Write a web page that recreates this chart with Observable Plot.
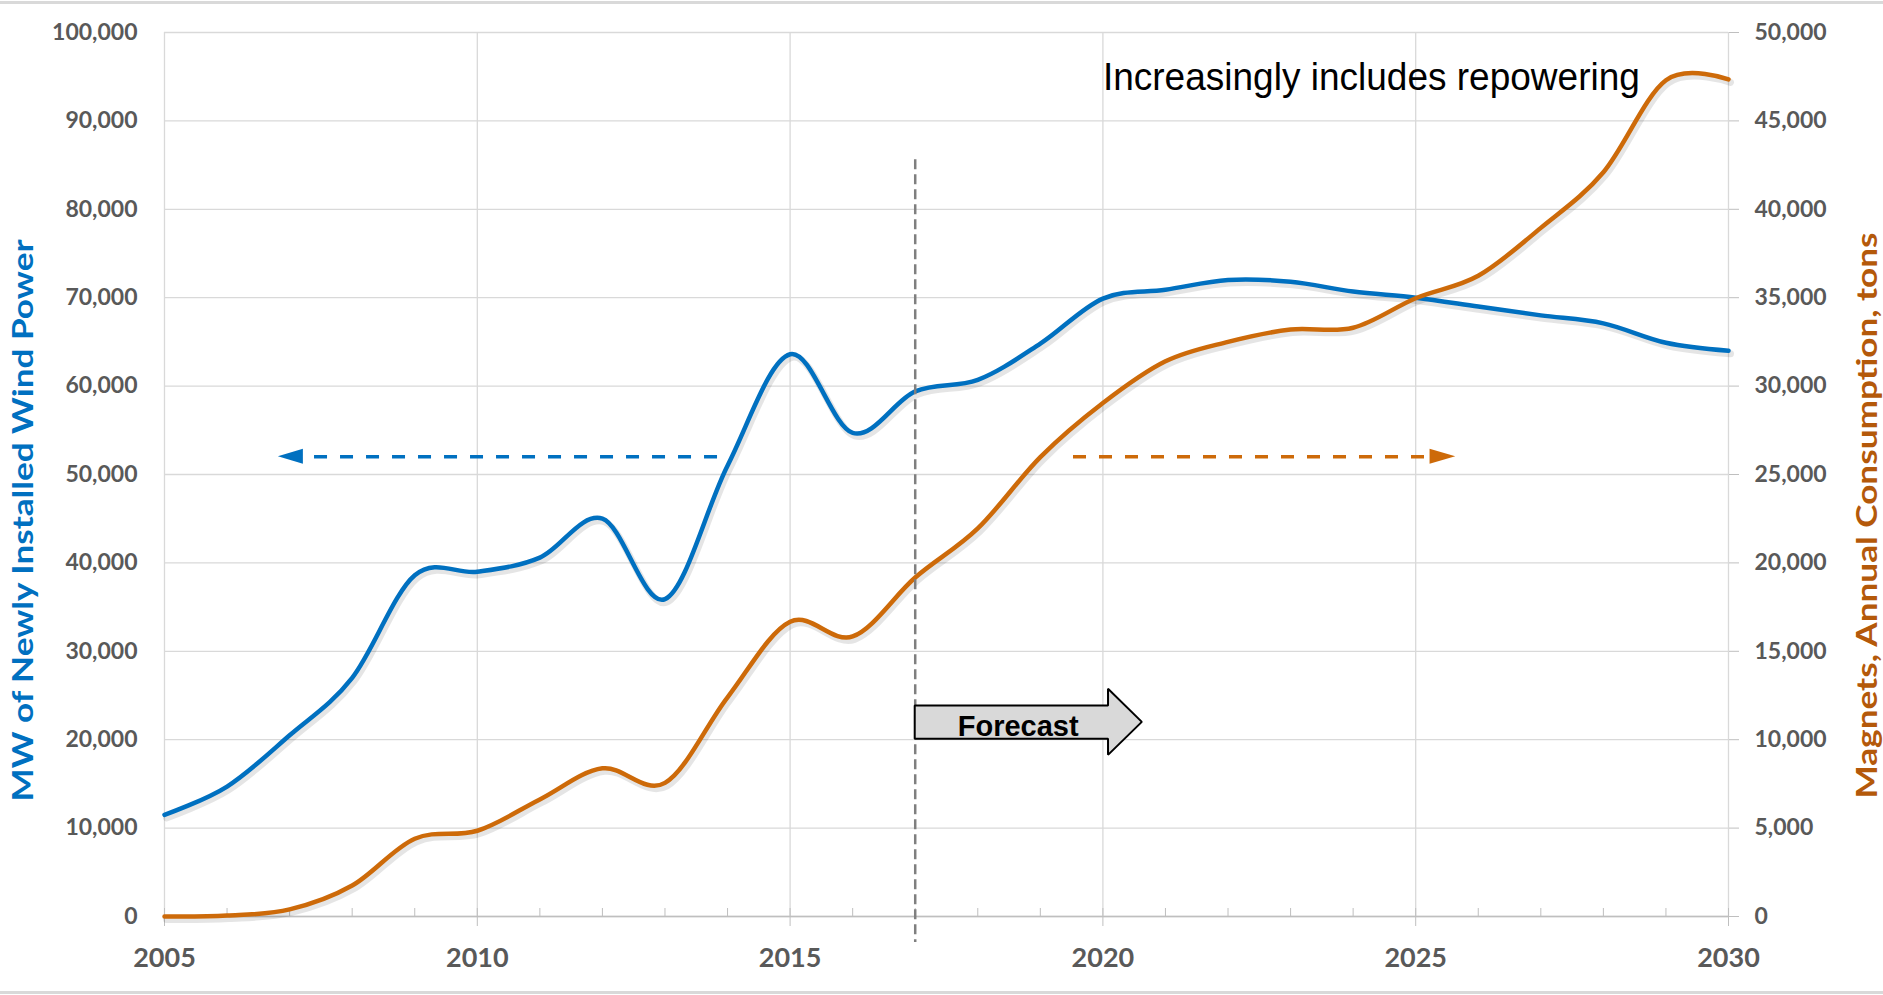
<!DOCTYPE html>
<html><head><meta charset="utf-8">
<script src="https://cdn.jsdelivr.net/npm/d3@7"></script>
<script src="https://cdn.jsdelivr.net/npm/@observablehq/plot@0.6"></script>
<style>
html,body{margin:0;padding:0;background:#fff;}
#chart{margin-top:1px;border-top:3px solid #d9d9d9;border-bottom:3px solid #d9d9d9;width:1883px;}
#chart svg{display:block;}
</style></head><body><div id="chart"></div>
<script>
// ---- data ----
const years = [2005,2006,2007,2008,2009,2010,2011,2012,2013,2014,2015,2016,2017,2018,2019,2020,2021,2022,2023,2024,2025,2026,2027,2028,2029,2030];
const windMW = [11500,14700,20500,27000,38600,39000,40600,45000,35900,51000,63600,54700,59400,60700,64800,69900,70900,72000,71800,70700,70000,69000,68000,67100,64900,64000];
const magnetTons = [0,50,400,1750,4400,4850,6620,8380,7560,12400,16670,15840,19170,21950,25980,29040,31400,32500,33200,33300,34970,36240,38950,42100,47300,47350];
const xTickYears = [2005,2010,2015,2020,2025,2030];
const leftTicks = [0,10000,20000,30000,40000,50000,60000,70000,80000,90000,100000];
const rightTicks = [0,5000,10000,15000,20000,25000,30000,35000,40000,45000,50000];
const leftTitle = "MW of Newly Installed Wind Power";
const rightTitle = "Magnets, Annual Consumption, tons";
const noteText = "Increasingly includes repowering";
const forecastLabel = "Forecast";
const forecastStart = 2017;

// ---- annotation geometry (data units) ----
const leftMax = 100000, rightMax = 50000;
const ratio = leftMax / rightMax;
const forecastLine = {y1: 85600, y2: -2940};
const forecastArrow = [
  {x: 2017, lo: 20040, hi: 23810},
  {x: 2020.09, lo: 20040, hi: 23810},
  {x: 2020.09, lo: 18230, hi: 25700},
  {x: 2020.63, lo: 21960, hi: 21960}
];
const forecastText = {x: 2017.68, y: 20435};
const note = {x: 2020.0, y: 93460};
const leftArrow = {from: 2013.84, to: 2007.22, tip: 2006.82, y: 52000};
const rightArrow = {from: 2019.53, to: 2025.23, tip: 2025.64, y: 52000};
const headHalf = 850;

const windData = years.map((year, i) => ({year, value: windMW[i]}));
const magnetData = years.map((year, i) => ({year, value: magnetTons[i]}));
const head = a => [{x: a.to, lo: a.y - headHalf, hi: a.y + headHalf}, {x: a.tip, lo: a.y, hi: a.y}];
const fmt = d3.format(",");

const blue = "#0070c0", orange = "#cd6a09", orangeTitle = "#b4590a", gray = "#595959";

const chart = Plot.plot({
  width: 1883, height: 987,
  marginLeft: 164, marginRight: 155, marginTop: 28, marginBottom: 75,
  style: {fontFamily: "Lato, sans-serif", background: "#fff"},
  x: {domain: [2005, 2030], axis: null},
  y: {domain: [0, leftMax], axis: null},
  marks: [
    Plot.gridY(leftTicks, {stroke: "#d9d9d9", strokeOpacity: 1, strokeWidth: 1.3}),
    Plot.gridX(xTickYears, {stroke: "#d9d9d9", strokeOpacity: 1, strokeWidth: 1.3}),
    Plot.ruleY([0], {stroke: "#bfbfbf", strokeWidth: 1.5}),
    Plot.axisX(xTickYears, {tickSize: 10, tickPadding: 21, tickFormat: d => String(d), stroke: "#bfbfbf", fill: gray, fontSize: 27, fontWeight: 700}),
    Plot.axisX(years, {tickSize: 8, dy: -8, tickFormat: () => "", stroke: "#bfbfbf"}),
    Plot.axisY(leftTicks, {anchor: "left", tickSize: 0, tickPadding: 27, tickFormat: fmt, fill: gray, fontSize: 23, fontWeight: 700}),
    Plot.axisY(rightTicks.map(v => v * ratio), {anchor: "right", tickSize: 10, tickPadding: 16, tickFormat: v => fmt(v / ratio), stroke: "#bfbfbf", fill: gray, fontSize: 23, fontWeight: 700}),
    // shadows
    Plot.line(windData, {x: "year", y: "value", curve: "cardinal", stroke: "#000", strokeOpacity: 0.1, strokeWidth: 7, dx: 2, dy: 3}),
    Plot.line(magnetData, {x: "year", y: d => d.value * ratio, curve: "cardinal", stroke: "#000", strokeOpacity: 0.1, strokeWidth: 7, dx: 2, dy: 3}),
    // series
    Plot.line(windData, {x: "year", y: "value", curve: "cardinal", stroke: blue, strokeWidth: 4.5}),
    Plot.line(magnetData, {x: "year", y: d => d.value * ratio, curve: "cardinal", stroke: orange, strokeWidth: 4.5}),
    // forecast divider
    Plot.ruleX([forecastStart], {y1: forecastLine.y1, y2: forecastLine.y2, stroke: "#7f7f7f", strokeWidth: 2.5, strokeDasharray: "10,5"}),
    Plot.areaY(forecastArrow, {x: "x", y1: "lo", y2: "hi", curve: "linear", fill: "#d9d9d9", stroke: "#000", strokeWidth: 2, strokeLinejoin: "miter"}),
    Plot.text([forecastLabel], {x: forecastText.x, y: forecastText.y, text: d => d, textAnchor: "start", lineAnchor: "bottom", fontFamily: "Liberation Sans, Arial, sans-serif", fontWeight: 700, fontSize: 29, fill: "#000"}),
    // dashed direction arrows
    Plot.ruleY([leftArrow.y], {x1: leftArrow.from, x2: leftArrow.to, stroke: blue, strokeWidth: 3.5, strokeDasharray: "13,13"}),
    Plot.areaY(head(leftArrow), {x: "x", y1: "lo", y2: "hi", curve: "linear", fill: blue}),
    Plot.ruleY([rightArrow.y], {x1: rightArrow.from, x2: rightArrow.to, stroke: orange, strokeWidth: 3.5, strokeDasharray: "13,13"}),
    Plot.areaY(head(rightArrow), {x: "x", y1: "lo", y2: "hi", curve: "linear", fill: orange}),
    // note
    Plot.text([noteText], {x: note.x, y: note.y, text: d => d, textAnchor: "start", lineAnchor: "bottom", fontFamily: "Liberation Sans, Arial, sans-serif", fontSize: 38, fill: "#000"}),
    // axis titles
    Plot.text([leftTitle], {frameAnchor: "left", dx: -141, dy: 46, rotate: -90, textAnchor: "middle", text: d => d, fill: blue, fontSize: 29, fontWeight: 700}),
    Plot.text([rightTitle], {frameAnchor: "right", dx: 139, dy: 41, rotate: -90, textAnchor: "middle", text: d => d, fill: orangeTitle, fontSize: 29, fontWeight: 700})
  ]
});
document.getElementById("chart").appendChild(chart);

// fit text lengths to the reference
const fit = {[leftTitle]: 562, [rightTitle]: 566, [noteText]: 537};
d3.select(chart).selectAll("text").each(function() {
  const L = fit[this.textContent];
  if (L) d3.select(this).attr("textLength", L).attr("lengthAdjust", "spacingAndGlyphs");
});
</script></body></html>
